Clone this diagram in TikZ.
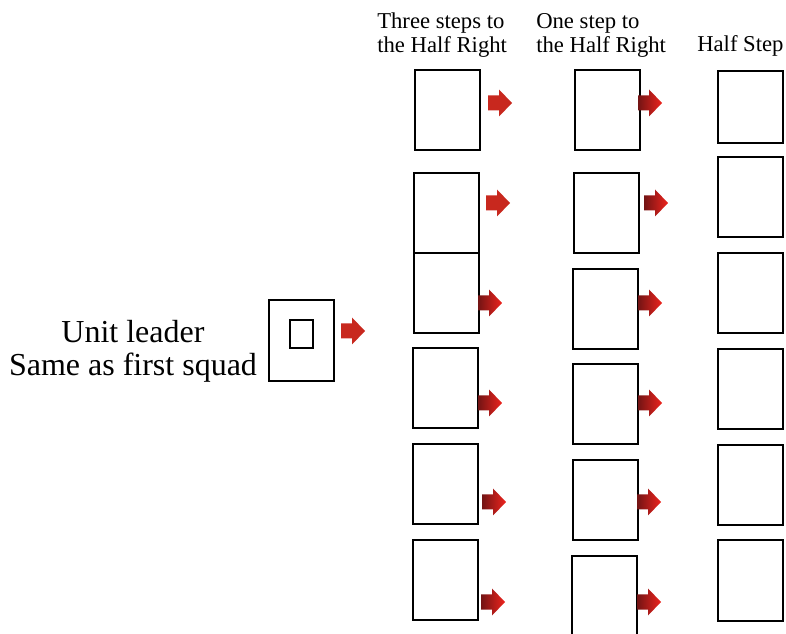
\documentclass[tikz,border=0pt]{standalone}
\usepackage{fontspec}
\setmainfont{Liberation Serif}
\usepackage{xcolor}
\definecolor{arrowred}{RGB}{200,40,30}
\definecolor{arrowdark}{RGB}{115,20,20}
\definecolor{arrowbright}{RGB}{238,36,30}
\tikzset{
  squadbox/.style={draw,line width=1.5pt,minimum width=48.75pt,minimum height=60pt,inner sep=0pt},
  headtext/.style={font=\fontsize{17}{18}\selectfont,align=left,inner sep=0pt},
  solidfill/.style={fill=arrowred},
  fadefill/.style={left color=arrowdark,right color=arrowbright},
}
\newcommand{\redarrow}[3]{%
  \path[#3] (#1,{#2-7.5}) -- ++(11,0) -- ++(0,-6) -- ++(13,13.5) -- ++(-13,13.5) -- ++(0,-6) -- ++(-11,0) -- cycle;}
\begin{document}
\begin{tikzpicture}[x=0.75pt,y=-0.75pt]
\useasboundingbox (0,0) rectangle (786,634);
% column titles
\node[headtext,anchor=north west] (title1) at (377,13) {Three steps to\\the Half Right};
\node[headtext,anchor=north west] (title2) at (536,13) {One step to\\the Half Right};
\node[headtext,anchor=base west] (title3) at (697,52) {Half Step};
% unit leader
\node[align=center,font=\fontsize{24}{25}\selectfont,inner sep=0pt] (leadtext) at (133,351) {Unit leader\\Same as first squad};
\node[squadbox,minimum height=60.75pt] (leader) at (301.5,340.5) {};
\node[draw,line width=0.8pt,minimum width=17.25pt,minimum height=21pt,inner sep=0pt] (leadmark) at (301.5,334) {};
% squads
\foreach \n/\x/\y in {c1r1/447/110.5,c1r2/446/213,c1r3/446/293,c1r4/445/388.5,c1r5/445/484.5,c1r6/445/580,
  c2r1/607/110.5,c2r2/606.5/213,c2r3/605.5/309,c2r4/605/404.5,c2r5/605.5/500,c2r6/604.5/596,
  c3r2/750/197,c3r3/750/293.5,c3r4/750/389,c3r5/750/485,c3r6/750/580.5}{\node[squadbox] (\n) at (\x,\y) {};}
\node[squadbox,minimum height=54pt] (c3r1) at (750,107) {};
% arrows
\foreach \x/\y/\s in {341/331/solidfill,
  488/103/solidfill,486/203/solidfill,478/303/fadefill,478/403/fadefill,482/502/fadefill,481/602/fadefill,
  638/103/fadefill,644/203/fadefill,638/303/fadefill,638/403/fadefill,637/502/fadefill,637/602/fadefill}{\redarrow{\x}{\y}{\s}}
\end{tikzpicture}
\end{document}
